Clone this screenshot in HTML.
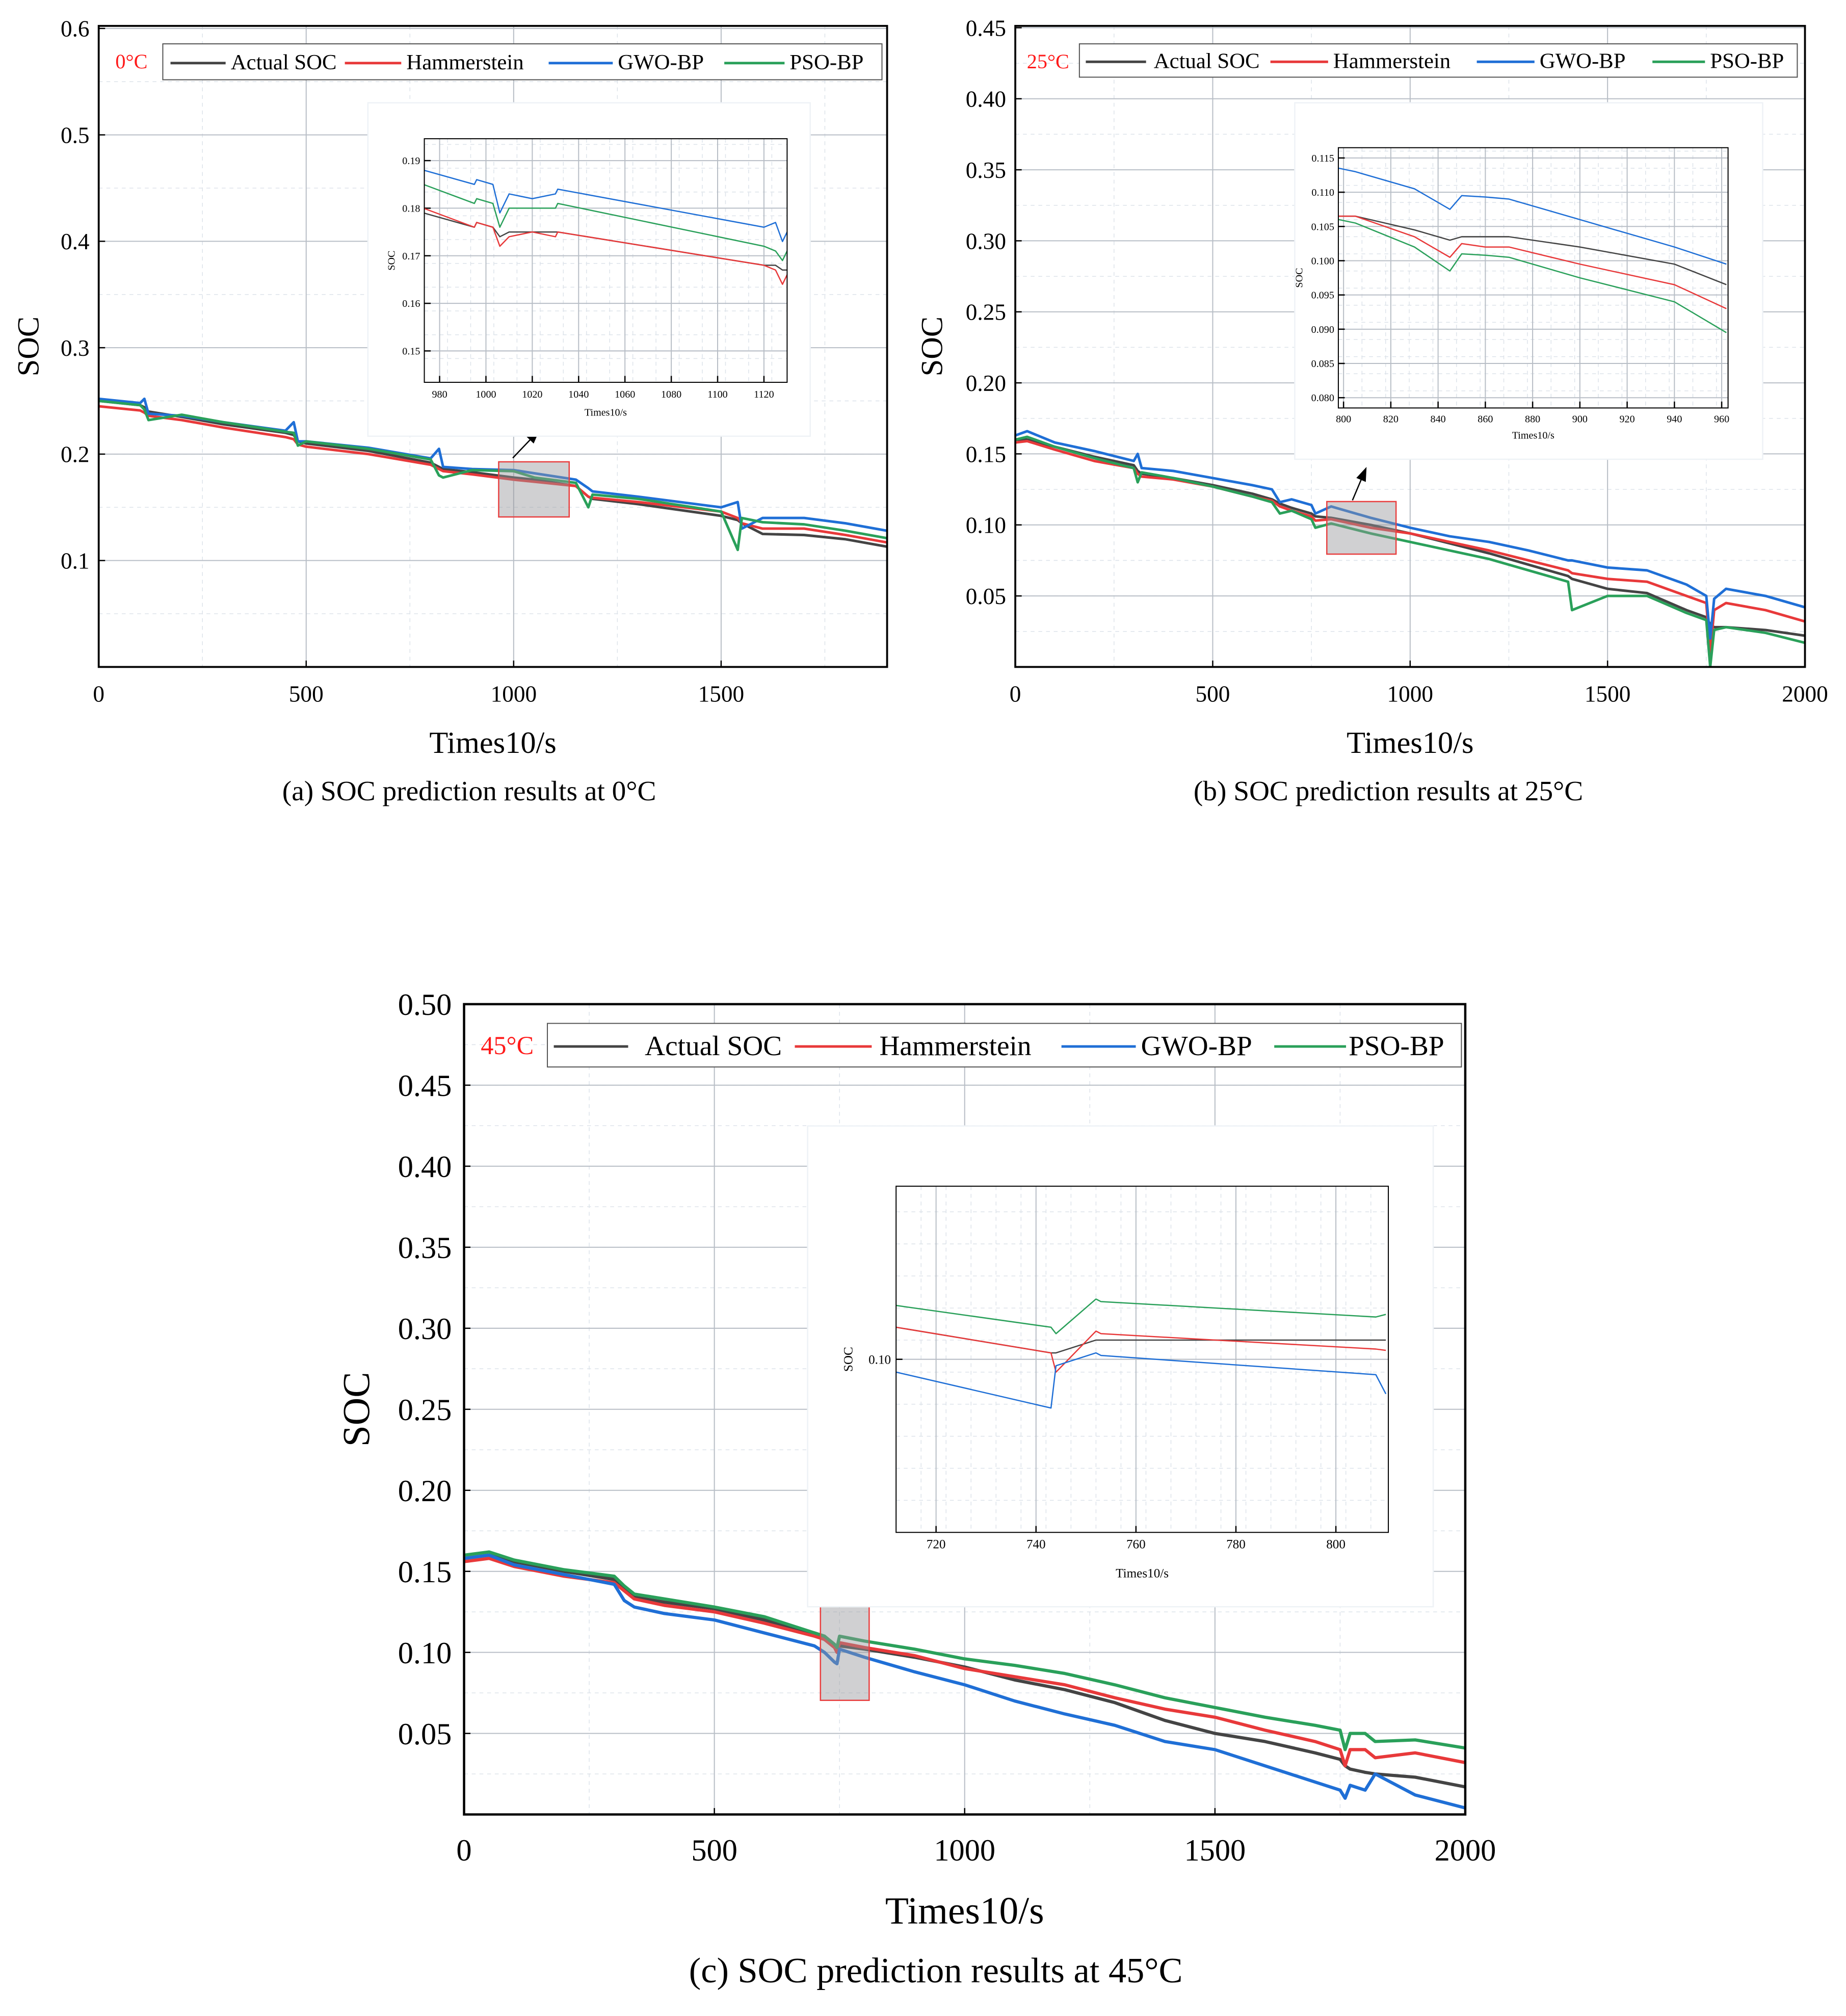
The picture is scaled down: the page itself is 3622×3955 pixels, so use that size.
<!DOCTYPE html>
<html><head><meta charset="utf-8"><style>
html,body{margin:0;padding:0;background:#fff;}
svg{display:block;font-family:"Liberation Serif",serif;}
</style></head>
<body>
<svg id="chart" width="3622" height="3955" viewBox="0 0 1440 1572" xmlns="http://www.w3.org/2000/svg"></svg>
<script>
// ---------- data ----------
const seriesNames = ["Actual SOC","Hammerstein","GWO-BP","PSO-BP"];
const seriesColors = ["#444444","#e8393a","#1f6fd6","#2aa05a"];

const aX = [0,100,110,120,200,300,450,470,480,500,650,800,820,830,900,1000,1050,1150,1180,1190,1300,1500,1540,1550,1600,1700,1800,1900];
const aActual = [0.250,0.246,0.244,0.240,0.235,0.228,0.220,0.218,0.212,0.210,0.203,0.192,0.188,0.186,0.183,0.178,0.176,0.170,0.160,0.158,0.153,0.142,0.138,0.135,0.125,0.124,0.120,0.113];
const aHamm = [0.245,0.241,0.239,0.236,0.232,0.225,0.216,0.214,0.209,0.207,0.200,0.190,0.186,0.184,0.181,0.176,0.174,0.170,0.160,0.159,0.155,0.146,0.140,0.135,0.130,0.130,0.124,0.117];
const aGwo = [0.252,0.248,0.252,0.238,0.236,0.230,0.222,0.230,0.212,0.212,0.206,0.196,0.205,0.188,0.186,0.185,0.182,0.176,0.168,0.165,0.160,0.150,0.155,0.130,0.140,0.140,0.135,0.128];
const aPso = [0.250,0.246,0.242,0.232,0.237,0.230,0.221,0.220,0.208,0.212,0.205,0.195,0.180,0.178,0.185,0.184,0.178,0.173,0.150,0.162,0.158,0.146,0.110,0.140,0.136,0.134,0.128,0.121];
const aXTicks = [0,500,1000,1500];
const aYTicks = [0.1,0.2,0.3,0.4,0.5,0.6];

const bX = [0,30,100,200,300,310,320,400,500,600,650,670,700,750,760,800,900,1000,1100,1200,1300,1400,1410,1500,1600,1700,1750,1760,1770,1800,1900,2000];
const bActual = [0.160,0.160,0.155,0.148,0.142,0.138,0.136,0.133,0.128,0.122,0.118,0.115,0.112,0.108,0.106,0.105,0.100,0.094,0.087,0.080,0.072,0.064,0.062,0.055,0.052,0.040,0.035,0.030,0.028,0.028,0.026,0.022];
const bHamm = [0.158,0.159,0.153,0.145,0.140,0.136,0.134,0.132,0.127,0.120,0.117,0.113,0.110,0.106,0.103,0.104,0.098,0.094,0.088,0.082,0.075,0.068,0.066,0.062,0.060,0.050,0.045,0.010,0.040,0.045,0.040,0.032];
const bGwo = [0.163,0.166,0.158,0.152,0.145,0.150,0.140,0.138,0.133,0.128,0.125,0.116,0.118,0.114,0.108,0.113,0.105,0.098,0.092,0.088,0.082,0.075,0.075,0.070,0.068,0.058,0.050,0.020,0.048,0.055,0.050,0.042];
const bPso = [0.160,0.162,0.155,0.147,0.140,0.130,0.137,0.133,0.127,0.120,0.116,0.108,0.110,0.104,0.098,0.101,0.094,0.088,0.082,0.076,0.068,0.060,0.040,0.050,0.050,0.038,0.033,0.000,0.026,0.028,0.024,0.017];
const bXTicks = [0,500,1000,1500,2000];
const bYTicks = [0.05,0.10,0.15,0.20,0.25,0.30,0.35,0.40,0.45];

const cX = [0,50,100,200,300,320,340,400,500,600,700,720,740,745,750,800,900,1000,1100,1200,1300,1400,1500,1600,1700,1750,1760,1770,1800,1820,1900,2000];
const cActual = [0.158,0.160,0.156,0.150,0.145,0.140,0.134,0.131,0.127,0.120,0.112,0.110,0.104,0.104,0.104,0.102,0.097,0.091,0.083,0.077,0.069,0.058,0.050,0.045,0.038,0.034,0.030,0.028,0.026,0.025,0.023,0.017];
const cHamm = [0.156,0.158,0.153,0.147,0.143,0.138,0.133,0.129,0.125,0.118,0.110,0.108,0.103,0.100,0.106,0.103,0.098,0.090,0.085,0.080,0.072,0.065,0.060,0.052,0.045,0.040,0.030,0.040,0.040,0.035,0.038,0.032];
const cGwo = [0.158,0.160,0.154,0.148,0.142,0.132,0.128,0.124,0.120,0.112,0.104,0.100,0.094,0.093,0.102,0.097,0.088,0.080,0.070,0.062,0.055,0.045,0.040,0.030,0.020,0.015,0.010,0.018,0.015,0.025,0.012,0.004];
const cPso = [0.160,0.162,0.157,0.151,0.147,0.141,0.136,0.133,0.128,0.122,0.112,0.110,0.105,0.103,0.110,0.107,0.102,0.096,0.092,0.087,0.080,0.072,0.066,0.060,0.055,0.052,0.040,0.050,0.050,0.045,0.046,0.041];
const cXTicks = [0,500,1000,1500,2000];
const cYTicks = [0.05,0.10,0.15,0.20,0.25,0.30,0.35,0.40,0.45,0.50];

const iaX = [973,995,996,1003,1006,1010,1020,1030,1031,1120,1125,1128,1130,1135];
const iaActual = [0.179,0.176,0.177,0.176,0.174,0.175,0.175,0.175,0.175,0.168,0.168,0.167,0.167,0.167];
const iaHamm = [0.180,0.176,0.177,0.176,0.172,0.174,0.175,0.174,0.175,0.168,0.167,0.164,0.166,0.166];
const iaGwo = [0.188,0.185,0.186,0.185,0.179,0.183,0.182,0.183,0.184,0.176,0.177,0.173,0.175,0.175];
const iaPso = [0.185,0.181,0.182,0.181,0.176,0.180,0.180,0.180,0.181,0.172,0.171,0.169,0.171,0.171];
const iaXTicks = [980,1000,1020,1040,1060,1080,1100,1120];
const iaYTicks = [0.15,0.16,0.17,0.18,0.19];

const ibX = [798,805,830,845,850,860,870,900,940,962];
const ibActual = [0.1065,0.1065,0.1045,0.1030,0.1035,0.1035,0.1035,0.1020,0.0995,0.0965];
const ibHamm = [0.1065,0.1065,0.1035,0.1005,0.1025,0.1020,0.1020,0.0995,0.0965,0.0930];
const ibGwo = [0.1135,0.1130,0.1105,0.1075,0.1095,0.1093,0.1090,0.1060,0.1020,0.0995];
const ibPso = [0.1060,0.1055,0.1020,0.0985,0.1010,0.1008,0.1005,0.0975,0.0940,0.0895];
const ibXTicks = [800,820,840,860,880,900,920,940,960];
const ibYTicks = [0.080,0.085,0.090,0.095,0.100,0.105,0.110,0.115];

const icX = [712,743,744,752,753,808,810];
const icActual = [0.1025,0.1005,0.1005,0.1015,0.1015,0.1015,0.1015];
const icHamm = [0.1025,0.1005,0.0990,0.1022,0.1020,0.1008,0.1007];
const icGwo = [0.0990,0.0962,0.0995,0.1005,0.1003,0.0988,0.0973];
const icPso = [0.1042,0.1025,0.1020,0.1047,0.1045,0.1033,0.1035];
const icXTicks = [720,740,760,780,800];
const icYTicks = [0.10];

// ---------- helpers ----------
const NS = "http://www.w3.org/2000/svg";
const svg = document.getElementById("chart");
function mk(tag, attrs, parent, text){
  const e = document.createElementNS(NS, tag);
  for (const k in attrs) e.setAttribute(k, attrs[k]);
  if (text !== undefined) e.textContent = text;
  (parent || svg).appendChild(e);
  return e;
}
function fmt(v, d){ return v.toFixed(d); }

function drawPlot(p){
  const g = mk("g", {});
  
  
  const sx = v => p.x0 + (v - p.xmin) / (p.xmax - p.xmin) * (p.x1 - p.x0);
  const sy = v => p.y1 - (v - p.ymin) / (p.ymax - p.ymin) * (p.y1 - p.y0);
  if (p.bg) mk("rect", {x:p.bx0, y:p.by0, width:p.bx1-p.bx0, height:p.by1-p.by0, fill:"#fff", stroke:"#eef2f6"}, g);
  if (p.minorX) for (let v = p.xmin; v <= p.xmax; v += p.minorX){
    mk("line", {x1:sx(v), x2:sx(v), y1:p.y0, y2:p.y1, stroke:"#dde3ea", "stroke-width":0.6, "stroke-dasharray":"3,3"}, g);
  }
  if (p.minorY) for (let v = p.ymin; v <= p.ymax+1e-9; v += p.minorY){
    mk("line", {x1:p.x0, x2:p.x1, y1:sy(v), y2:sy(v), stroke:"#dde3ea", "stroke-width":0.6, "stroke-dasharray":"3,3"}, g);
  }
  p.xTicks.forEach(v => {
    const l = mk("line", {x1:sx(v), x2:sx(v), y1:p.y0, y2:p.y1, stroke:"#b8bec6", "stroke-width":0.8}, g);
    
    
    mk("line", {x1:sx(v), x2:sx(v), y1:p.y1, y2:p.y1-5, stroke:"#000", "stroke-width":1}, g);
    const t = mk("text", {x:sx(v), y:p.y1 + p.tfs*(p.xlo||1.25), "font-size":p.tfs, "text-anchor":"middle"}, g, String(v));
    
    
  });
  p.yTicks.forEach(v => {
    const l = mk("line", {x1:p.x0, x2:p.x1, y1:sy(v), y2:sy(v), stroke:"#b8bec6", "stroke-width":0.8}, g);
    
    
    mk("line", {x1:p.x0, x2:p.x0+5, y1:sy(v), y2:sy(v), stroke:"#000", "stroke-width":1}, g);
    const t = mk("text", {x:p.x0 - p.tfs*0.4, y:sy(v) + p.tfs*0.35, "font-size":p.tfs, "text-anchor":"end"}, g, fmt(v, p.yDec));
    
    
  });
  const clip = "clip-" + p.name;
  const cp = mk("clipPath", {id:clip}, g);
  mk("rect", {x:p.x0, y:p.y0, width:p.x1-p.x0, height:p.y1-p.y0}, cp);
  p.series.forEach((arr, i) => {
    const d = arr.map((v, k) => (k ? "L" : "M") + sx(p.xs[k]).toFixed(2) + "," + sy(v).toFixed(2)).join("");
    const path = mk("path", {d:d, fill:"none", stroke:seriesColors[i], "stroke-width":p.lw, "clip-path":"url(#"+clip+")", "stroke-linejoin":"round"}, g);
    
    
  });
  const fr = mk("rect", {x:p.x0, y:p.y0, width:p.x1-p.x0, height:p.y1-p.y0, fill:"none", stroke:"#000", "stroke-width":p.fw}, g);
  
  
  if (p.xTitle){
    const t = mk("text", {x:(p.x0+p.x1)/2, y:p.xTitleY, "font-size":p.titleFs, "text-anchor":"middle"}, g, p.xTitle);
    
    
  }
  if (p.yTitle){
    const t = mk("text", {x:p.yTitleX, y:(p.y0+p.y1)/2, "font-size":p.titleFs, "text-anchor":"middle", transform:"rotate(-90 "+p.yTitleX+" "+((p.y0+p.y1)/2)+")"}, g, p.yTitle);
    
    
  }
  return {sx, sy, g};
}

function legend(x0, y0, x1, y1, fs, positions, temp, tx, ty, tfs){
  const g = mk("g", {});
  
  
  mk("rect", {x:x0, y:y0, width:x1-x0, height:y1-y0, fill:"#fff", stroke:"#555", "stroke-width":0.8}, g);
  positions.forEach((pp, i) => {
    const e = mk("g", {}, g);
    
    
    const cy = (y0+y1)/2;
    mk("line", {x1:pp[0], x2:pp[1], y1:cy+1, y2:cy+1, stroke:seriesColors[i], "stroke-width":2}, e);
    mk("text", {x:pp[2], y:cy + fs*0.35, "font-size":fs}, e, seriesNames[i]);
  });
  const t = mk("text", {x:tx, y:ty, "font-size":tfs, fill:"#ff1a1a"}, svg, temp);
  
  
}

function zoomBox(x0,y0,x1,y1, ax,ay,bx,by){
  const r = mk("rect", {x:x0, y:y0, width:x1-x0, height:y1-y0, fill:"rgba(150,150,155,0.45)", stroke:"#e84040", "stroke-width":1});
  
  
  const ang = Math.atan2(by-ay, bx-ax);
  const a = mk("line", {x1:ax, y1:ay, x2:bx - 9*Math.cos(ang), y2:by - 9*Math.sin(ang), stroke:"#000", "stroke-width":1});
  
  
  const p1x = bx - 11*Math.cos(ang) + 4*Math.sin(ang), p1y = by - 11*Math.sin(ang) - 4*Math.cos(ang);
  const p2x = bx - 11*Math.cos(ang) - 4*Math.sin(ang), p2y = by - 11*Math.sin(ang) + 4*Math.cos(ang);
  mk("polygon", {points:`${bx},${by} ${p1x},${p1y} ${p2x},${p2y}`, fill:"#000"});
}

function caption(x, y, fs, txt){
  const t = mk("text", {x:x, y:y, "font-size":fs, "text-anchor":"middle"}, svg, txt);
  
  
}

// ---------- panel (a) ----------
drawPlot({name:"panel-a", x0:77, x1:692, y0:20, y1:520, xmin:0, xmax:1900, ymin:0, ymax:0.6024,
  xs:aX, series:[aActual,aHamm,aGwo,aPso], xTicks:aXTicks, yTicks:aYTicks, yDec:1, xlo:1.5,
  minorX:250, minorY:0.05, tfs:18, lw:2, fw:1.5, xTitle:"Times10/s", xTitleY:587, titleFs:24, yTitle:"SOC", yTitleX:30});
legend(127,34,688,62,17,[[133,176,180],[269,313,317],[428,478,482],[565,612,616]],"0°C",90,53,16);
zoomBox(389,360,444,403, 400,357,421,335);
drawPlot({name:"inset-a", bg:true, bx0:287,by0:80,bx1:632,by1:340, x0:331, x1:614, y0:108, y1:298, xmin:973.4, xmax:1130, ymin:0.1434, ymax:0.1946,
  xs:iaX, series:[iaActual,iaHamm,iaGwo,iaPso], xTicks:iaXTicks, yTicks:iaYTicks, yDec:2, xlo:1.5,
  minorX:10, minorY:0.005, tfs:8, lw:1, fw:0.8, xTitle:"Times10/s", xTitleY:324, titleFs:8, yTitle:"SOC", yTitleX:308});

// ---------- panel (b) ----------
drawPlot({name:"panel-b", x0:792, x1:1408, y0:20, y1:520, xmin:0, xmax:2000, ymin:0, ymax:0.4513,
  xs:bX, series:[bActual,bHamm,bGwo,bPso], xTicks:bXTicks, yTicks:bYTicks, yDec:2, xlo:1.5,
  minorX:250, minorY:0.025, tfs:18, lw:2, fw:1.5, xTitle:"Times10/s", xTitleY:587, titleFs:24, yTitle:"SOC", yTitleX:735});
legend(842,34,1402,60,17,[[847,894,900],[991,1036,1040],[1152,1197,1201],[1289,1330,1334]],"25°C",801,53,16);
zoomBox(1035,391,1089,432, 1055,390,1066,364);
drawPlot({name:"inset-b", bg:true, bx0:1010,by0:80,bx1:1375,by1:358, x0:1044, x1:1348, y0:115, y1:318, xmin:797.8, xmax:962.7, ymin:0.0785, ymax:0.1165,
  xs:ibX, series:[ibActual,ibHamm,ibGwo,ibPso], xTicks:ibXTicks, yTicks:ibYTicks, yDec:3, xlo:1.4,
  minorX:10, minorY:0.0025, tfs:8, lw:1, fw:0.8, xTitle:"Times10/s", xTitleY:342, titleFs:8, yTitle:"SOC", yTitleX:1016});

// ---------- panel (c) ----------
drawPlot({name:"panel-c", x0:362, x1:1143, y0:783, y1:1415, xmin:0, xmax:2000, ymin:0, ymax:0.5,
  xs:cX, series:[cActual,cHamm,cGwo,cPso], xTicks:cXTicks, yTicks:cYTicks, yDec:2, xlo:1.5,
  minorX:250, minorY:0.025, tfs:24, lw:2.5, fw:1.8, xTitle:"Times10/s", xTitleY:1500, titleFs:30, yTitle:"SOC", yTitleX:288});
legend(427,798,1140,832,22,[[432,490,503],[620,680,686],[828,886,890],[994,1050,1052]],"45°C",375,822,20);
zoomBox(640,1250,678,1326, 683,1253,721,1212);
drawPlot({name:"inset-c", bg:true, bx0:630,by0:878,bx1:1118,by1:1253, x0:699, x1:1083, y0:925, y1:1195, xmin:712, xmax:810.5, ymin:0.0865, ymax:0.1135,
  xs:icX, series:[icActual,icHamm,icGwo,icPso], xTicks:icXTicks, yTicks:icYTicks, yDec:2, xlo:1.25,
  minorX:5, minorY:0.0025, tfs:10, lw:1, fw:0.8, xTitle:"Times10/s", xTitleY:1230, titleFs:10, yTitle:"SOC", yTitleX:665});

// ---------- captions ----------
caption(366,624,22,"(a) SOC prediction results at 0°C");
caption(1083,624,22,"(b) SOC prediction results at 25°C");
caption(730,1546,28,"(c) SOC prediction results at 45°C");
</script>
</body></html>
